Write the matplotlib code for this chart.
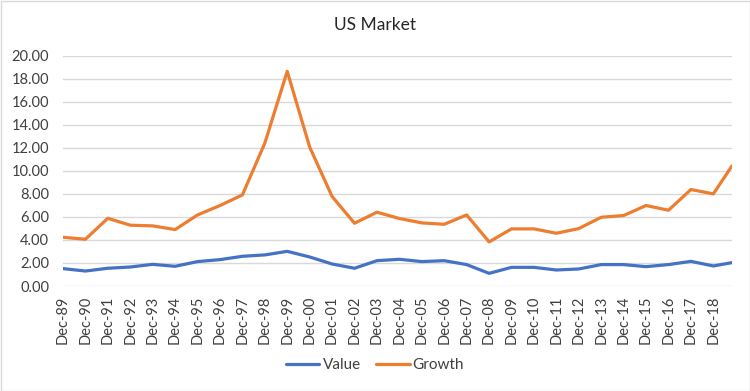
import matplotlib
matplotlib.use('agg')

import matplotlib.pyplot as plt
import matplotlib.patches as mpatches
import pandas as pd

# data
dates = ["1989-12-31", "1990-12-31", "1991-12-31", "1992-12-31", "1993-12-31",
         "1994-12-31", "1995-12-31", "1996-12-31", "1997-12-31", "1998-12-31",
         "1999-12-31", "2000-12-31", "2001-12-31", "2002-12-31", "2003-12-31",
         "2004-12-31", "2005-12-31", "2006-12-31", "2007-12-31", "2008-12-31",
         "2009-12-31", "2010-12-31", "2011-12-31", "2012-12-31", "2013-12-31",
         "2014-12-31", "2015-12-31", "2016-12-31", "2017-12-31", "2018-12-31",
         "2019-10-31"]
value = [1.51, 1.30, 1.54, 1.65, 1.88, 1.71, 2.12, 2.29, 2.58, 2.70,
         3.01, 2.52, 1.91, 1.54, 2.20, 2.32, 2.12, 2.20, 1.86, 1.10,
         1.62, 1.62, 1.39, 1.48, 1.86, 1.86, 1.68, 1.86, 2.14, 1.74,
         2.03]
growth = [4.23, 4.06, 5.88, 5.28, 5.22, 4.90, 6.17, 6.99, 7.91, 12.41,
          18.64, 12.06, 7.77, 5.45, 6.41, 5.86, 5.48, 5.36, 6.17, 3.83,
          4.96, 4.96, 4.58, 4.99, 5.97, 6.12, 6.99, 6.58, 8.38, 8.00,
          10.43]
tick_labels = ["Dec-%02d" % (y % 100) for y in range(1989, 2019)]
yticks = [0, 2, 4, 6, 8, 10, 12, 14, 16, 18, 20]

plt.rcParams['font.family'] = ['Lato', 'DejaVu Sans']

x = pd.to_datetime(dates)

fig = plt.figure(figsize=(7.5, 3.91), dpi=100)
ax = fig.add_axes([63 / 750, 1 - 286 / 391, (732 - 63) / 750, (286 - 55.7) / 391])

ax.plot(x, value, color='#4472C4', lw=2.3, label='Value', solid_capstyle='round')
ax.plot(x, growth, color='#ED7D31', lw=2.3, label='Growth', solid_capstyle='round')

ax.set_ylim(0, 20)
ax.set_xlim(x[0], x[-1])
ax.set_yticks(yticks)
ax.set_yticklabels(["%.2f" % v for v in yticks], fontsize=10.5, color='#404040')
ax.set_xticks(x[:len(tick_labels)])
ax.set_xticklabels(tick_labels, rotation=90, fontsize=10.5, color='#404040')
ax.tick_params(axis='y', length=0, pad=10)
ax.tick_params(axis='x', length=0, pad=7)
ax.grid(axis='y', color='#D9D9D9', lw=1)
ax.set_axisbelow(True)
for s in ax.spines.values():
    s.set_visible(False)

fig.text(0.5, 1 - 25 / 391, 'US Market', ha='center', va='center',
         fontsize=12.5, color='#262626')

fig.legend(loc='center', bbox_to_anchor=(0.5, 1 - 365 / 391), ncol=2,
           frameon=False, fontsize=11, handlelength=2.2, columnspacing=1.0,
           handletextpad=0.2, labelcolor='#404040')

fig.patches.append(mpatches.Rectangle((0.5 / 750, 0.5 / 391), 749 / 750, 390 / 391,
                                      transform=fig.transFigure, fill=False,
                                      ec='#D9D9D9', lw=1))

plt.savefig('out.png', dpi=100)
